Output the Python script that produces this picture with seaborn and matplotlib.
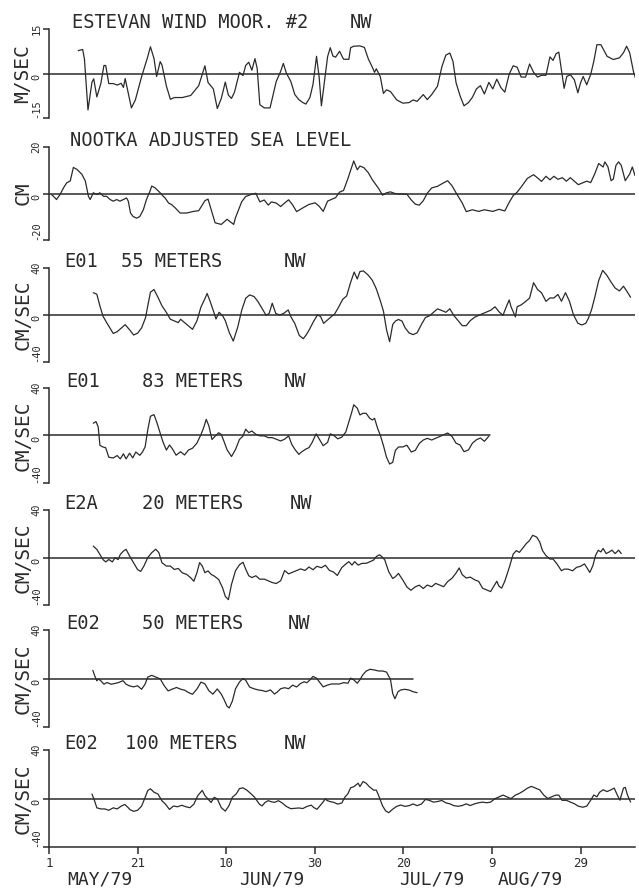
import matplotlib
matplotlib.use("Agg")
import matplotlib.pyplot as plt
import seaborn as sns
import pandas as pd

# (day since Apr 30, value)
estevan_wind = [
    (7.6, 7.7), (8.6, 8.1), (9.0, 4.9), (9.8, -12.3), (10.7, -2.9), (11.1, -1.8), (11.8, -7.9), (12.7, -3.4),
    (13.4, 2.7), (13.8, 2.7), (14.5, -3.4), (15.5, -3.4), (16.4, -3.9), (17.3, -3.3), (17.8, -4.7), (18.2, -1.7),
    (19.6, -11.6), (20.5, -8.9), (21.9, -1.1), (23.3, 5.7), (23.9, 9.0), (24.7, 5.1), (25.3, -1.0), (26.1, 4.0),
    (26.5, 2.9), (27.5, -4.2), (28.4, -8.7), (29.3, -8.1), (31.1, -8.1), (33.0, -7.4), (34.8, -4.1), (36.2, 2.6),
    (36.9, -3.0), (38.1, -5.2), (39.0, -11.8), (39.9, -8.4), (40.8, -2.9), (41.5, -7.3), (42.2, -8.4), (42.9, -6.2),
    (44.0, 0.4), (44.8, -0.7), (45.4, 2.7), (46.1, 3.8), (46.8, 1.1), (47.5, 5.0), (48.0, 1.7), (48.6, -10.5),
    (49.6, -11.6), (50.9, -11.6), (52.3, -2.7), (53.3, 0.7), (53.9, 3.4), (54.6, 0.1), (55.6, -2.7), (56.5, -7.1),
    (57.4, -8.8), (58.3, -9.8), (59.0, -10.3), (59.9, -8.1), (60.6, -3.7), (61.4, 5.8), (62.0, -1.4), (62.5, -10.9),
    (63.2, -2.6), (63.9, 5.7), (64.5, 8.7), (65.1, 5.9), (65.7, 5.5), (66.6, 7.5), (67.5, 4.8), (68.7, 4.8),
    (69.1, 8.7), (69.8, 9.2), (71.2, 9.3), (72.2, 8.8), (73.1, 4.9), (74.0, 2.1), (74.5, 0.4), (74.9, 1.6),
    (75.8, -1.1), (76.5, -6.7), (77.2, -5.5), (78.1, -6.1), (79.5, -8.9), (80.9, -10.0), (82.3, -9.8), (83.2, -8.9),
    (84.1, -9.4), (85.5, -7.1), (86.4, -8.8), (87.4, -7.1), (88.7, -4.3), (89.7, 2.3), (90.6, 6.2), (91.5, 6.9),
    (92.2, 4.1), (92.9, -3.1), (93.8, -7.5), (94.7, -10.9), (95.7, -9.8), (96.6, -8.0), (97.5, -5.2), (98.4, -4.1),
    (99.3, -6.9), (100.3, -3.0), (101.2, -5.2), (102.1, -1.9), (103.0, -4.7), (103.9, -6.3), (104.9, -0.2), (105.8, 2.6),
    (106.7, 2.1), (107.6, -1.2), (108.6, -1.2), (109.5, 3.2), (110.4, 0.4), (111.3, -1.2), (112.2, -0.6), (113.2, -0.6),
    (114.1, 5.6), (114.8, 4.4), (115.5, 6.7), (116.1, 7.2), (116.8, 0.0), (117.3, -5.0), (117.9, -1.0), (118.7, -0.4),
    (119.6, -2.1), (120.4, -6.5), (121.0, -3.2), (121.6, -1.0), (122.4, -3.8), (123.3, -0.3), (124.0, 4.1), (124.7, 9.7),
    (125.6, 9.7), (127.0, 5.8), (128.4, 4.7), (129.8, 5.3), (130.7, 7.0), (131.4, 9.2), (132.1, 7.0), (133.0, 0.3),
    (133.4, -1.5),
]

nootka_sea_level = [
    (1.6, -0.5), (2.0, -1.2), (2.7, -2.6), (3.5, -0.4), (4.3, 2.5), (5.0, 4.6), (5.8, 5.4), (6.5, 11.2), (7.3, 10.4),
    (8.4, 8.3), (9.2, 5.4), (9.9, -1.2), (10.3, -2.6), (11.0, 0.3), (11.8, -0.4), (12.5, 0.3), (13.3, -1.2),
    (14.0, -1.2), (14.8, -2.6), (15.5, -3.3), (16.3, -2.6), (17.0, -3.3), (17.8, -2.6), (18.5, -1.9), (18.9, -3.3),
    (19.4, -8.4), (20.0, -9.9), (20.8, -10.6), (21.5, -9.9), (22.3, -7.0), (23.0, -2.6), (23.8, 1.0), (24.2, 3.2),
    (24.9, 2.5), (25.7, 1.0), (26.1, 0.3), (26.8, -1.2), (27.2, -1.9), (28.0, -4.1), (28.7, -4.8), (29.5, -6.2),
    (30.6, -8.4), (32.1, -8.4), (33.6, -7.7), (34.8, -7.4), (36.2, -3.1), (36.9, -2.4), (37.6, -6.8), (38.5, -12.6),
    (39.9, -13.3), (41.2, -11.1), (42.7, -13.3), (43.1, -10.4), (44.5, -3.6), (45.4, -1.3), (46.8, -0.3), (47.7, 0.1),
    (48.6, -3.6), (49.6, -2.8), (50.5, -5.0), (51.2, -3.6), (52.3, -4.1), (53.3, -5.6), (54.2, -4.1), (55.1, -2.7),
    (56.0, -4.9), (56.9, -7.8), (58.3, -6.2), (59.7, -4.7), (61.1, -4.0), (62.0, -5.5), (62.9, -7.7), (63.9, -3.3),
    (64.8, -2.5), (65.7, -1.8), (66.6, 0.6), (67.5, 1.3), (68.5, 6.5), (69.4, 11.7), (69.8, 14.0), (70.6, 10.2),
    (71.2, 11.8), (72.1, 11.1), (73.1, 8.9), (74.0, 5.9), (75.4, 2.2), (76.3, -0.7), (77.2, 0.3), (78.1, 0.7),
    (79.1, 0.0), (80.9, -0.3), (81.8, -0.3), (82.8, -2.8), (83.7, -4.6), (84.6, -5.0), (85.5, -3.1), (86.4, 0.1),
    (87.4, 2.4), (88.7, 3.1), (90.1, 4.6), (91.0, 5.5), (92.0, 3.3), (92.9, 0.3), (94.3, -4.1), (95.2, -7.8),
    (96.6, -7.0), (98.0, -7.7), (99.3, -7.0), (101.2, -7.7), (102.6, -6.8), (103.9, -7.5), (104.9, -3.8), (105.8, -0.9),
    (106.7, 0.6), (107.6, 2.8), (109.0, 6.5), (110.4, 8.1), (111.3, 6.7), (112.2, 5.2), (113.2, 7.4), (114.1, 5.9),
    (115.0, 7.4), (115.9, 6.1), (116.9, 6.8), (117.8, 5.3), (118.7, 6.8), (119.6, 5.3), (120.5, 3.8), (121.5, 4.6),
    (122.4, 5.3), (123.3, 4.7), (124.2, 8.4), (125.1, 12.9), (126.1, 11.4), (126.5, 13.6), (127.2, 11.4), (127.9, 5.5),
    (128.4, 6.2), (129.0, 12.1), (129.6, 13.6), (130.2, 12.1), (131.1, 5.5), (132.1, 8.4), (132.7, 11.4), (133.3, 7.7),
]

e01_55m = [
    (11.0, 19.0), (11.8, 17.7), (12.5, 7.6), (13.2, -1.1), (14.1, -7.0), (15.5, -15.7), (16.4, -14.2), (17.3, -11.2),
    (18.2, -8.2), (19.2, -12.6), (20.1, -17.0), (21.0, -15.5), (21.9, -11.0), (22.8, -2.3), (23.3, 7.8), (23.9, 19.4),
    (24.7, 21.7), (25.6, 15.1), (26.5, 7.8), (27.5, 2.2), (28.4, -3.6), (29.3, -5.1), (30.2, -6.5), (30.7, -3.6),
    (31.6, -6.4), (32.5, -9.3), (33.4, -12.2), (34.4, -5.0), (35.3, 6.7), (36.2, 13.9), (36.7, 18.3), (37.3, 12.4),
    (38.1, 3.7), (38.7, -3.4), (39.4, 2.3), (40.2, -0.6), (40.8, -4.8), (41.7, -14.9), (42.6, -22.2), (43.6, -10.5),
    (44.5, 3.9), (45.4, 14.2), (46.3, 17.1), (47.3, 15.7), (48.2, 11.3), (49.1, 5.6), (50.0, -0.2), (50.7, 1.3),
    (51.4, 10.0), (52.2, 1.3), (53.1, 0.0), (54.0, 1.4), (55.0, 4.3), (55.6, -1.4), (56.5, -7.3), (57.5, -17.4),
    (58.4, -20.2), (59.0, -17.3), (59.7, -13.0), (60.7, -5.7), (61.6, 0.0), (62.3, -1.2), (63.0, -7.1), (63.9, -4.2),
    (64.8, -1.2), (65.4, 0.3), (66.3, 6.1), (67.3, 13.3), (68.2, 16.2), (69.1, 27.8), (69.9, 36.5), (70.6, 30.7),
    (71.2, 37.0), (72.0, 37.5), (73.1, 33.8), (74.0, 29.5), (74.9, 22.2), (75.8, 12.1), (76.5, 3.4), (77.2, -12.5),
    (77.9, -22.7), (78.6, -8.1), (79.2, -5.2), (79.9, -3.8), (80.7, -5.2), (81.4, -10.9), (82.3, -15.3), (83.2, -16.7),
    (84.1, -15.2), (85.1, -7.9), (86.0, -2.1), (86.9, -0.7), (87.8, 2.3), (88.7, 5.2), (89.7, 3.8), (90.6, 2.3),
    (91.5, 5.3), (92.4, -0.5), (93.4, -4.9), (94.3, -9.1), (95.2, -9.1), (96.1, -4.8), (97.1, -1.9), (98.0, -0.3),
    (98.9, 1.1), (99.8, 2.5), (100.7, 4.0), (101.7, 7.0), (102.6, 2.7), (103.5, -0.2), (104.4, 8.5), (104.9, 12.8),
    (105.3, 7.1), (106.3, -1.6), (106.7, 7.1), (107.6, 8.6), (108.6, 11.5), (109.5, 14.4), (110.4, 27.5), (111.3, 21.7),
    (112.2, 18.9), (113.2, 11.6), (114.1, 14.5), (115.0, 14.5), (115.9, 17.5), (116.7, 11.7), (117.6, 19.0), (118.5, 11.7),
    (119.4, 0.2), (120.4, -7.0), (121.3, -8.5), (122.2, -7.0), (122.8, -2.6), (123.5, 4.6), (124.2, 14.8), (125.1, 29.3),
    (126.0, 38.0), (126.9, 34.0), (127.9, 28.0), (128.8, 23.0), (129.8, 20.5), (130.7, 24.5), (131.6, 19.4), (132.3, 15.1),
]

e01_83m = [
    (11.0, 10.3), (11.6, 11.7), (12.1, 7.4), (12.5, -8.3), (13.2, -9.7), (13.8, -10.3), (14.5, -18.3), (15.5, -18.9),
    (16.4, -16.9), (17.1, -19.7), (17.8, -15.4), (18.4, -19.7), (19.2, -14.9), (19.9, -18.9), (20.6, -13.9), (21.5, -16.7),
    (22.1, -13.9), (22.7, -9.6), (23.3, 4.7), (23.9, 16.2), (24.7, 17.6), (25.4, 10.4), (26.1, 2.0), (26.7, -5.1),
    (27.5, -12.3), (28.2, -8.0), (28.8, -10.9), (29.7, -16.6), (30.7, -13.7), (31.6, -16.4), (32.5, -12.2), (33.4, -10.7),
    (34.4, -6.4), (35.3, 0.7), (35.9, 6.4), (36.5, 13.6), (37.1, 8.0), (37.8, -3.4), (38.5, -0.6), (39.3, 2.3),
    (39.9, 0.9), (40.5, -4.9), (41.2, -12.0), (42.2, -17.7), (43.1, -11.9), (44.0, -3.3), (44.8, -0.5), (45.4, 5.3),
    (46.1, 2.4), (46.8, 3.8), (47.7, 1.0), (48.6, -0.3), (49.6, -0.3), (50.5, -1.8), (51.4, -1.8), (52.3, -3.1),
    (53.3, -4.6), (54.2, -3.1), (55.1, -0.3), (55.8, -7.4), (56.5, -11.6), (57.4, -15.9), (58.0, -13.9), (58.9, -11.6),
    (59.7, -10.2), (60.4, -5.9), (61.3, 1.4), (62.0, -2.9), (62.9, -8.6), (63.9, -5.8), (64.5, 1.4), (65.3, 0.0),
    (66.2, -2.8), (67.1, -1.4), (68.0, 2.9), (68.7, 11.5), (69.4, 20.2), (69.8, 25.9), (70.6, 23.0), (71.2, 17.3),
    (71.9, 18.7), (72.6, 18.7), (73.4, 14.5), (74.0, 13.1), (74.5, 14.5), (75.2, 5.9), (75.8, 0.2), (76.5, -8.4),
    (77.2, -18.3), (77.9, -24.0), (78.6, -22.6), (79.2, -12.6), (79.9, -9.7), (80.9, -9.6), (81.8, -8.2), (82.8, -13.9),
    (83.7, -12.5), (84.6, -6.7), (85.5, -3.8), (86.4, -2.4), (87.4, -3.8), (88.3, -2.3), (89.2, -0.9), (90.1, 0.6),
    (91.0, 2.1), (92.0, -0.8), (92.9, -6.5), (93.8, -8.0), (94.7, -13.6), (95.7, -12.2), (96.6, -6.4), (97.5, -3.6),
    (98.4, -2.1), (99.3, -4.9), (100.3, -0.6),
]

e2a_20m = [
    (11.0, 9.6), (11.8, 6.8), (12.5, 2.5), (13.2, -1.8), (13.8, -3.7), (14.5, -1.7), (15.3, -3.7), (15.9, -0.3),
    (16.6, -1.7), (17.1, 2.6), (17.8, 5.4), (18.4, 6.9), (19.2, 1.2), (20.1, -4.5), (21.0, -10.2), (21.7, -11.7),
    (22.4, -7.4), (23.3, -0.1), (24.2, 4.1), (25.1, 7.0), (25.8, 4.1), (26.5, -4.4), (27.5, -7.2), (28.4, -7.2),
    (29.3, -10.1), (30.2, -9.2), (31.1, -12.9), (32.1, -14.3), (33.0, -17.1), (33.7, -20.0), (34.4, -12.8), (35.0, -4.3),
    (35.6, -7.1), (36.2, -12.8), (36.9, -11.3), (37.6, -14.2), (38.3, -15.6), (39.3, -18.5), (40.2, -25.6), (40.8, -32.7),
    (41.5, -35.5), (42.2, -22.7), (43.1, -11.2), (44.0, -6.1), (44.8, -4.0), (45.4, -9.7), (46.1, -15.4), (46.8, -16.9),
    (47.7, -15.4), (48.6, -18.3), (49.6, -18.2), (50.5, -19.6), (51.4, -21.1), (52.3, -21.9), (53.3, -19.6), (54.2, -11.0),
    (55.1, -13.8), (56.0, -12.4), (56.9, -11.0), (57.8, -9.6), (58.8, -10.9), (59.7, -8.0), (60.6, -10.3), (61.5, -7.4),
    (62.5, -8.6), (63.4, -6.5), (64.3, -10.8), (65.2, -12.2), (66.1, -15.1), (67.1, -8.5), (68.0, -5.5), (68.7, -3.5),
    (69.4, -6.4), (70.0, -3.5), (70.8, -6.4), (71.7, -4.9), (72.6, -4.9), (73.5, -3.5), (74.3, -2.1), (74.9, 0.8),
    (75.6, 2.3), (76.1, 0.9), (76.8, -2.0), (77.7, -12.0), (78.6, -17.7), (79.2, -16.2), (79.9, -13.4), (80.9, -19.1),
    (81.8, -24.8), (82.7, -27.6), (83.7, -24.7), (84.6, -23.3), (85.5, -26.1), (86.4, -23.2), (87.4, -24.6), (88.3, -21.8),
    (89.2, -23.2), (90.1, -24.6), (91.0, -20.3), (92.0, -17.4), (92.9, -13.1), (93.6, -8.8), (94.3, -14.5), (95.2, -17.3),
    (96.1, -16.5), (97.1, -18.8), (98.0, -20.1), (98.9, -25.9), (99.8, -27.3), (100.7, -28.7), (101.4, -24.3), (102.1, -20.0),
    (102.6, -24.3), (103.2, -25.8), (103.9, -20.0), (104.9, -8.6), (105.8, 2.9), (106.5, 5.8), (107.2, 4.3), (107.8, 7.2),
    (108.7, 11.5), (109.5, 14.4), (110.2, 18.7), (111.1, 17.2), (111.8, 13.0), (112.4, 5.9), (113.2, 1.6), (114.1, -1.3),
    (114.8, -1.3), (115.7, -5.5), (116.7, -11.2), (117.3, -9.8), (118.2, -9.8), (119.2, -11.2), (120.1, -8.3), (121.0, -7.4),
    (121.9, -5.4), (122.6, -9.7), (123.1, -12.6), (123.8, -6.7), (124.4, 1.8), (125.0, 6.1), (125.6, 4.7), (126.1, 7.6),
    (126.8, 3.3), (127.5, 4.7), (128.1, 6.2), (128.8, 3.3), (129.6, 6.2), (130.2, 3.3),
]

e02_50m = [
    (10.9, 6.7), (11.3, 2.4), (11.8, -1.9), (12.2, -0.4), (12.7, -1.9), (13.4, -4.7), (14.1, -3.3), (15.0, -4.7),
    (15.9, -4.1), (16.8, -3.2), (17.7, -1.8), (18.4, -4.7), (19.1, -6.0), (20.1, -6.9), (21.0, -6.0), (21.9, -8.9),
    (22.7, -4.6), (23.3, 1.2), (24.2, 2.6), (25.1, 1.2), (26.1, -0.3), (27.0, -5.9), (27.9, -10.2), (28.8, -8.8),
    (29.8, -7.4), (30.7, -8.8), (31.6, -9.6), (32.5, -11.6), (33.4, -13.0), (34.4, -8.7), (35.3, -3.0), (36.2, -4.4),
    (37.1, -10.1), (38.0, -12.9), (39.0, -8.6), (39.9, -12.9), (40.5, -17.2), (41.2, -22.9), (41.7, -24.3), (42.4, -18.6),
    (43.1, -8.6), (44.0, -2.9), (44.8, 0.0), (45.4, -1.4), (46.3, -7.1), (47.3, -8.5), (48.2, -9.4), (49.1, -9.9),
    (50.0, -10.8), (51.0, -9.4), (51.9, -12.8), (52.5, -11.3), (53.3, -8.4), (54.2, -7.6), (55.1, -8.4), (56.0, -5.5),
    (56.9, -7.0), (57.8, -4.1), (58.6, -2.7), (59.2, -3.5), (59.9, -1.2), (60.6, 1.7), (61.4, 0.3), (62.0, -2.6),
    (62.9, -6.9), (63.9, -5.4), (64.8, -4.5), (65.7, -4.5), (66.6, -4.5), (67.5, -3.4), (68.5, -3.9), (69.1, 0.3),
    (69.8, -1.1), (70.6, -3.9), (71.2, -1.0), (71.9, 3.3), (72.6, 6.1), (73.5, 7.6), (74.5, 7.0), (75.4, 6.2),
    (76.3, 6.2), (77.2, 5.3), (77.7, 1.9), (78.1, -1.0), (78.6, -12.4), (79.1, -16.7), (79.8, -10.9), (80.4, -9.5),
    (81.3, -8.9), (82.3, -9.5), (83.2, -10.9), (84.1, -11.7),
]

e02_100m = [
    (10.7, 3.7), (11.3, -2.0), (11.8, -7.7), (12.7, -8.6), (13.6, -8.6), (14.5, -9.7), (15.5, -7.7), (16.4, -8.6),
    (17.3, -6.3), (18.1, -4.9), (18.7, -6.9), (19.3, -9.2), (20.1, -10.6), (21.0, -9.7), (21.9, -6.3), (22.7, 0.9),
    (23.3, 6.6), (23.9, 8.0), (24.7, 5.2), (25.6, 3.7), (26.5, -1.9), (27.3, -4.7), (28.2, -9.0), (29.1, -6.2),
    (30.0, -6.8), (31.0, -5.6), (31.9, -6.8), (32.8, -7.6), (33.7, -4.7), (34.6, 2.4), (35.6, 6.7), (36.2, 2.4),
    (36.9, -0.4), (37.6, -3.3), (38.3, 1.0), (39.0, -0.4), (39.9, -7.6), (40.8, -10.4), (41.6, -6.1), (42.4, 1.0),
    (43.3, 3.9), (44.0, 8.2), (44.8, 8.8), (45.7, 6.8), (46.6, 3.9), (47.4, 1.1), (48.5, -4.7), (49.1, -6.1),
    (49.8, -3.2), (50.5, -1.8), (51.2, -2.7), (51.9, -3.2), (52.8, -1.8), (53.7, -3.8), (54.6, -6.6), (55.6, -8.4),
    (56.5, -8.1), (57.4, -7.8), (58.3, -8.3), (59.2, -6.6), (60.2, -5.5), (60.8, -7.5), (61.5, -8.9), (62.5, -4.6),
    (63.4, -0.3), (63.8, -1.7), (64.5, -2.6), (65.2, -3.1), (66.2, -4.6), (67.1, -3.7), (67.8, 1.1), (68.5, 4.0),
    (69.1, 8.9), (69.8, 9.7), (70.8, 12.6), (71.2, 9.8), (71.9, 14.0), (72.6, 12.6), (73.3, 9.8), (74.3, 6.9),
    (74.9, 6.9), (75.4, 2.6), (76.3, -6.0), (77.0, -10.2), (77.7, -11.7), (78.6, -8.8), (79.5, -6.5), (80.4, -5.4),
    (81.4, -6.5), (82.3, -5.9), (83.2, -4.5), (84.1, -5.9), (85.1, -4.5), (86.0, -0.7), (86.9, -1.6), (87.8, -3.0),
    (88.7, -2.5), (89.7, -1.6), (90.6, -3.6), (91.5, -4.4), (92.4, -5.9), (93.4, -6.4), (94.3, -5.8), (95.2, -4.4),
    (96.1, -5.8), (97.1, -4.4), (98.0, -3.5), (98.9, -3.0), (99.8, -3.5), (100.7, -3.0), (101.7, -0.1), (102.6, 1.3),
    (103.5, 2.8), (104.4, 1.3), (105.3, -0.1), (106.3, 2.8), (107.2, 4.2), (108.1, 6.2), (109.0, 8.5), (109.9, 10.0),
    (110.9, 8.5), (111.8, 7.1), (112.7, 2.8), (113.6, 0.0), (114.5, 1.4), (115.4, 2.8), (116.1, 2.8), (116.8, -1.5),
    (117.8, -1.5), (118.7, -2.9), (119.6, -4.3), (120.5, -6.3), (121.5, -7.2), (122.4, -6.3), (123.3, -1.4), (124.0, 2.9),
    (124.7, 1.4), (125.3, 5.1), (126.1, 7.2), (127.0, 5.7), (127.9, 7.2), (128.6, 8.6), (129.3, 2.9), (129.9, -1.4),
    (130.7, 8.6), (131.1, 9.2), (131.6, 2.9), (132.3, -2.9),
]

series = [estevan_wind, nootka_sea_level, e01_55m, e01_83m, e2a_20m, e02_50m, e02_100m]
limits = [15, 20, 40, 40, 40, 40, 40]
units = ["M/SEC", "CM", "CM/SEC", "CM/SEC", "CM/SEC", "CM/SEC", "CM/SEC"]
zero_line_end = [None, None, None, 100.5, None, 83.2, None]
titles = [
    ["ESTEVAN WIND MOOR. #2", "NW"],
    ["NOOTKA ADJUSTED SEA LEVEL"],
    ["E01", "55 METERS", "NW"],
    ["E01", "83 METERS", "NW"],
    ["E2A", "20 METERS", "NW"],
    ["E02", "50 METERS", "NW"],
    ["E02", "100 METERS", "NW"],
]
tick_days = [1, 21, 41, 61, 81, 101, 121]
tick_labels = ["1", "21", "10", "30", "20", "9", "29"]
months = ["MAY/79", "JUN/79", "JUL/79", "AUG/79"]

# layout, in pixels of the 639x892 figure
W, H = 639, 892
X0, X1 = 49, 635
XMIN, XMAX = 1, 133.3
boxes = [(29, 118), (147, 240), (268, 362), (388, 483), (510, 605), (630, 727), (750, 847)]
title_x = [[72, 350], [70], [64, 121, 284], [66, 142, 284], [64, 142, 290], [66, 142, 288], [64, 125, 284]]
month_x = [100, 272, 432, 530]
INK = "#2b2b2b"

sns.set_style("white")
plt.rcParams["font.family"] = ["DejaVu Sans Mono"]
plt.rcParams["text.color"] = INK

fig = plt.figure(figsize=(6.39, 8.92), dpi=100)
fig.patch.set_facecolor("white")

for i, pts in enumerate(series):
    top, bot = boxes[i]
    lim = limits[i]
    ax = fig.add_axes([X0 / W, 1 - bot / H, (X1 - X0) / W, (bot - top) / H])
    ax.set_facecolor("none")
    df = pd.DataFrame(pts, columns=["day", "value"])
    sns.lineplot(data=df, x="day", y="value", ax=ax, color=INK, lw=0.9,
                 estimator=None, sort=False)
    end = zero_line_end[i] if zero_line_end[i] else XMAX
    ax.axhline(0, xmin=0, xmax=(end - XMIN) / (XMAX - XMIN), color=INK, lw=1.1)
    ax.set_xlim(XMIN, XMAX)
    ax.set_ylim(-lim, lim)
    ax.set_xlabel("")
    ax.set_ylabel("")

    for s in ["top", "right", "bottom"]:
        ax.spines[s].set_visible(False)
    ax.spines["left"].set_color(INK)
    ax.spines["left"].set_linewidth(1.1)

    ax.set_yticks([-lim, 0, lim])
    ax.set_yticklabels([f"-{lim}", "0", f"{lim}"], rotation=90, fontsize=7.5, color=INK)
    ax.tick_params(axis="y", direction="out", length=4, width=1.1, color=INK, pad=1.5, left=True)
    labs = ax.get_yticklabels()
    labs[0].set_verticalalignment("bottom")
    labs[1].set_verticalalignment("top")
    labs[2].set_verticalalignment("center")

    if i == len(series) - 1:
        ax.spines["bottom"].set_visible(True)
        ax.spines["bottom"].set_color(INK)
        ax.spines["bottom"].set_linewidth(1.1)
        ax.set_xticks(tick_days)
        ax.set_xticklabels(tick_labels, fontsize=9, color=INK)
        ax.tick_params(axis="x", direction="out", length=5, width=1.1, color=INK, pad=2, bottom=True)
    else:
        ax.set_xticks([])

    fig.text(23 / W, 1 - (top + bot) / 2 / H, units[i], rotation=90,
             ha="center", va="center", fontsize=14, color=INK)
    for txt, x in zip(titles[i], title_x[i]):
        fig.text(x / W, 1 - (top - 1) / H, txt, ha="left", va="baseline",
                 fontsize=13.5, color=INK)

for m, x in zip(months, month_x):
    fig.text(x / W, 1 - 880 / H, m, ha="center", va="center", fontsize=13, color=INK)

fig.savefig("out.png", dpi=100, facecolor="white")
